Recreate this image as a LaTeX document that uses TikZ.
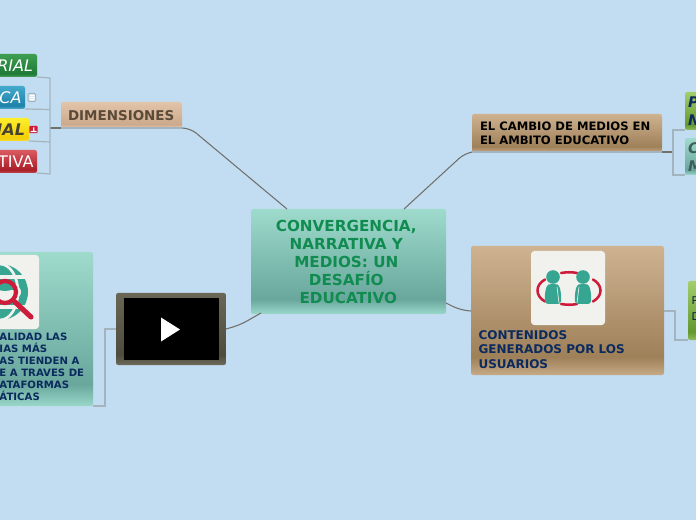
\documentclass[tikz,border=0pt]{standalone}
\usepackage{fontspec}
\setmainfont{DejaVu Sans}
\usetikzlibrary{calc}
\definecolor{bgc}{HTML}{C2DDF1}
\definecolor{linkc}{HTML}{70706C}
\definecolor{brk}{HTML}{A4B4BE}
\definecolor{navy}{HTML}{0B2A5E}
\definecolor{teal1}{HTML}{36A592}
\definecolor{red1}{HTML}{CE1B3A}
\definecolor{paper}{HTML}{F1F2EE}
% vertical shading: top, dark stop at 85%, bottom
\newcommand{\shadedef}[4]{\pgfdeclareverticalshading{#1}{100bp}{color(0bp)=(#4!100!white); color(25bp)=(#4!100!white); color(32bp)=(#3!100!white); color(75bp)=(#2!100!white); color(100bp)=(#2!100!white)}}
\definecolor{t1}{HTML}{9EDBCC}\definecolor{t2}{HTML}{69A79D}\definecolor{t3}{HTML}{99D8C9}
\definecolor{b1}{HTML}{CFB391}\definecolor{b2}{HTML}{9E8059}\definecolor{b3}{HTML}{C6AA86}
\definecolor{d1}{HTML}{E2C4AA}\definecolor{d2}{HTML}{CDA98C}\definecolor{d3}{HTML}{E3C9B0}
\definecolor{g1}{HTML}{3E9E50}\definecolor{g2}{HTML}{1D7A38}\definecolor{g3}{HTML}{4AA35C}
\definecolor{c1}{HTML}{45A9CC}\definecolor{c2}{HTML}{1F82A8}\definecolor{c3}{HTML}{4FAFCF}
\definecolor{y1}{HTML}{FFEE2C}\definecolor{y2}{HTML}{F2CF08}\definecolor{y3}{HTML}{F7DC30}
\definecolor{r1}{HTML}{DB5A62}\definecolor{r2}{HTML}{A91F28}\definecolor{r3}{HTML}{C2474E}
\definecolor{l1}{HTML}{A2CE6C}\definecolor{l2}{HTML}{63982F}\definecolor{l3}{HTML}{8DBD5A}
\definecolor{v1}{HTML}{6A6656}\definecolor{v2}{HTML}{4F4C3E}\definecolor{v3}{HTML}{6E6A5A}
\shadedef{tealsh}{t1}{t2}{t3}
\shadedef{tansh}{b1}{b2}{b3}
\shadedef{dimsh}{d1}{d2}{d3}
\shadedef{greensh}{g1}{g2}{g3}
\shadedef{cyansh}{c1}{c2}{c3}
\shadedef{yellowsh}{y1}{y2}{y3}
\shadedef{redsh}{r1}{r2}{r3}
\shadedef{limesh}{l1}{l2}{l3}
\shadedef{videosh}{v1}{v2}{v3}
\tikzset{
 flatbox/.style={rounded corners=1.6pt,inner sep=0pt,outer sep=0pt,anchor=north west},
 link/.style={draw=linkc,line width=.8pt,rounded corners=6pt},
 bracket/.style={draw=brk,line width=.9pt},
 lab/.style={inner sep=0pt,outer sep=0pt,anchor=west,align=left,font=\bfseries\fontsize{#1}{#1}\selectfont},
 ital/.style={inner sep=0pt,outer sep=0pt,text=white,font=\fontsize{#1}{#1}\selectfont\itshape},
}
% name, x1,y1,x2,y2, shading
\newcommand{\bx}[6]{\node[flatbox,shading=#6,minimum width={(#4-#2)*0.75pt},minimum height={(#5-#3)*0.75pt}] (#1) at (#2,#3) {};}
\begin{document}
\begin{tikzpicture}[x=.75pt,y=-.75pt]
\useasboundingbox (0,0) rectangle (696,520);
\clip (0,0) rectangle (696,520);
\fill[bgc] (0,0) rectangle (696,520);
% anchor points on the root edge
\coordinate (rA) at (287,209);
\coordinate (rB) at (404,209);
\coordinate (rC) at (446,303);
\coordinate (rD) at (261,313);
% boxes
\bx{root}{251}{209}{446}{314}{tealsh}
\node[inner sep=0pt,align=center,text={rgb,255:red,17;green,140;blue,80},font=\bfseries\fontsize{11.4}{13.5}\selectfont] (rootlab) at (346.3,262) {CONVERGENCIA,\\NARRATIVA Y\\MEDIOS: UN\\DESAFÍO\\\hspace*{3pt}EDUCATIVO};
\bx{dim}{61}{102}{182}{128}{dimsh}
\node[lab=10.1,text={rgb,255:red,90;green,74;blue,56}] (dimlab) at (68,115.5) {DIMENSIONES};
\bx{a1}{-60}{54}{37}{77}{greensh}
\bx{a2}{-60}{86}{25}{109}{cyansh}
\bx{a3}{-60}{118}{29}{141}{yellowsh}
\bx{a4}{-60}{150}{37}{173}{redsh}
\node[ital=12,anchor=east] (a1lab) at (33,66) {RIAL};
\node[ital=12,anchor=east] (a2lab) at (21.5,97.5) {ICA};
\node[ital=12,anchor=east,text={rgb,255:red,70;green,66;blue,50},font=\fontsize{12}{12}\selectfont\bfseries\itshape] (a3lab) at (25,130) {IAL};
\node[ital=12,anchor=east,font=\fontsize{12}{12}\selectfont] (a4lab) at (33.5,162) {TIVA};
\node[draw=brk,fill=bgc!60!white,line width=.8pt,rounded corners=1pt,minimum width=5.6pt,minimum height=6.2pt,inner sep=0pt] (noteicon) at (31.8,97.5) {};
\node[fill=red1,rounded corners=.8pt,minimum width=6.2pt,minimum height=5.6pt,inner sep=0pt] (redicon) at (33.5,129.5) {};
\fill[white] (30.5,131) rectangle (36.5,132.2) (33,127.5) rectangle (34.4,131);
\foreach \yy in {95.5,97.5,99.5}{\draw[white,line width=.5pt] (29.5,\yy) -- (34.5,\yy);}
\bx{chg}{472}{114}{662}{152}{tansh}
\node[lab=9,text=black,font=\bfseries\fontsize{8.7}{10.7}\selectfont] (chglab) at (480,133) {EL CAMBIO DE MEDIOS EN\\EL AMBITO EDUCATIVO};
\bx{b1box}{685}{92}{760}{130}{limesh}
\bx{b2box}{685}{138}{760}{175}{tealsh}
\node[lab=11,text=navy,font=\bfseries\itshape\fontsize{11}{14}\selectfont] (b1lab) at (688,111) {P\\N};
\node[lab=11,text={rgb,255:red,62;green,92;blue,90},font=\bfseries\itshape\fontsize{11}{14}\selectfont] (b2lab) at (688,157) {C\\M};
\bx{gen}{471}{246}{664}{375}{tansh}
\node[flatbox,fill=paper,minimum width={74*0.75pt},minimum height={74*0.75pt},rounded corners=2.5pt] (genimg) at (531,251) {};
\node[lab=9.5,text=navy,font=\bfseries\fontsize{9}{10.9}\selectfont] (genlab) at (478.5,349.5) {CONTENIDOS\\GENERADOS POR LOS\\USUARIOS};
\bx{plat}{688}{281}{760}{340}{limesh}
\node[lab=8,text=navy!70!black,font=\fontsize{8}{12.5}\selectfont] (platlab) at (691.5,308.5) {P\\D};
\bx{video}{116}{293}{226}{365}{videosh}
\node[flatbox,fill=black,rounded corners=0pt,minimum width={95*0.75pt},minimum height={62*0.75pt}] (screen) at (123.5,298) {};
\fill[white] (161,317.5) -- (180,329.5) -- (161,341.5) -- cycle;
\bx{real}{-60}{252}{93}{406}{tealsh}
\node[flatbox,fill=paper,minimum width={99*0.75pt},minimum height={74*0.75pt},rounded corners=2.5pt] (realimg) at (-60,255) {};
\node[lab=8,text=navy,font=\bfseries\fontsize{7.6}{9}\selectfont] (reallab) at (-0.5,367) {ALIDAD LAS\\IAS MÁS\\AS TIENDEN A\\E A TRAVES DE\\ATAFORMAS\\ÁTICAS};
% people icon
\draw[red1,line width=1.9pt,line cap=round] (561,273) .. controls (567,272) and (572,272) .. (577,273);
\draw[red1,line width=1.9pt,line cap=round] (561,304) .. controls (567,305) and (572,305) .. (577,304);
\draw[red1,line width=1.9pt,line cap=round] (545,279.5) .. controls (535,285) and (535,296) .. (545,301.5);
\draw[red1,line width=1.9pt,line cap=round] (593,279.5) .. controls (603,285) and (603,296) .. (593,301.5);
\foreach \px in {553,583}{
 \fill[teal1] (\px,277) circle (6.8);
 \fill[teal1,rounded corners=2pt] (\px-7.5,304) .. controls (\px-9,296) and (\px-7,285) .. (\px-2,284) -- (\px+2,284) .. controls (\px+7,285) and (\px+9,296) .. (\px+7.5,304) -- cycle;
}
\draw[paper,line width=.5pt] (557,287) -- (559,303) (579,287) -- (577,303);
% globe + lens icon
\fill[teal1] (0,292) circle (28);
\draw[paper,line width=2pt] (0,292) ellipse (18 and 28);
\draw[paper,line width=3pt] (-5,277) -- (30,277) (-5,307) -- (30,307);
\fill[paper] (0,292) ellipse (21 and 11);
\fill[teal1] (5,292) ++(-10,-2) arc (180:360:10 and 8) -- cycle;
\fill[teal1] (-4,288) -- (14,288) arc (20:160:9.6 and 4.5) -- cycle;
\draw[red1,line width=3.2pt] (5,292) circle (11);
\draw[red1,line width=3.8pt,line cap=round] (15,302) -- (31,317);
% connectors
\draw[link] (dim.south east) -- ++(8,0) -- (rA);
\draw[link] (dim.south west) -- (50,128);
\draw[bracket] (a1.south east) -- (50,78) -- (50,174) -- (a4.south east);
\draw[bracket] (a2.south east) -- (50,109.5);
\draw[bracket] (a3.south east) -- (50,142);
\draw[brk,line width=.8pt] (dim.south west) -- (dim.south east);
\draw[link] (rB) -- (465,153) -- (chg.south west);
\draw[brk,line width=.8pt] (chg.south west) -- (chg.south east);
\draw[link] (chg.south east) -- (673,152);
\draw[bracket] (b1box.south west) -- (673,130) -- (673,175) -- (b2box.south west);
\draw[link] (rC) -- (460,310) -- (471,311);
\draw[bracket] (664,311) -- (675,311) -- (675,340) -- (plat.south west);
\draw[link] (rD) -- (240,325) -- (226,329);
\draw[bracket] (116,329) -- (105,329) -- (105,406) -- (real.south east);
\end{tikzpicture}
\end{document}
